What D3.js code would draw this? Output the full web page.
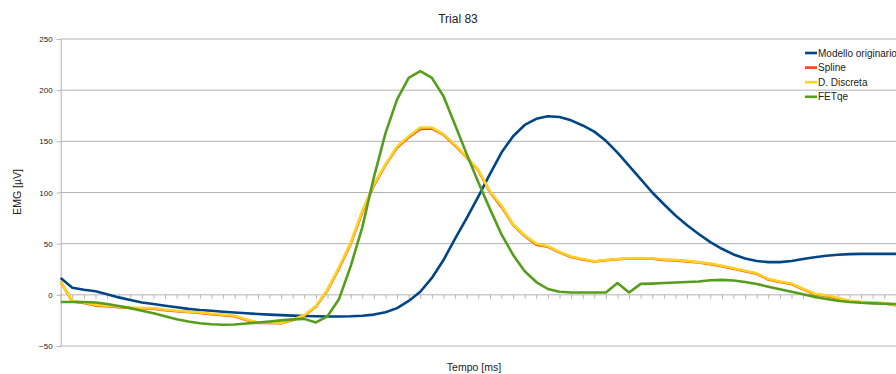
<!DOCTYPE html>
<html>
<head>
<meta charset="utf-8">
<script src="https://cdn.jsdelivr.net/npm/d3@7"></script>
<style>
  body { margin: 0; background: #fff; }
  svg { display: block; font-family: "Liberation Sans", Arial, sans-serif; }
</style>
</head>
<body>
<div id="container"></div>
<script>
/* CONSTANTS AND GLOBALS */
const width = 896,
  height = 374,
  margin = { top: 39, bottom: 28, left: 60.7, right: 0 }

/* DATA */
const seriesNames = ["Modello originario", "Spline", "D. Discreta", "FETqe"]
const seriesColors = ["#004586", "#ff420e", "#ffd320", "#579d1c"]
const yTicks = [-50, 0, 50, 100, 150, 200, 250]

const modello = [16.5, 7, 5, 3.5, 0.5, -2.5, -5, -7.5, -9, -10.7, -12.2, -13.7, -14.8, -15.6, -16.5, -17.2,
  -18, -18.7, -19.3, -19.8, -20.3, -20.7, -21, -21.2, -21.2, -21, -20.5, -19.3, -17, -13, -6, 3, 16.5, 34,
  55, 75, 96, 118, 139, 155, 166, 172, 174.5, 173.8, 170.5, 165.5, 159.5, 150.5, 139, 126, 113, 100, 88.5,
  77.5, 68, 59.5, 51.5, 45, 39.5, 35.5, 33, 32, 32, 33, 35, 36.8, 38.2, 39.2, 39.8, 40, 40, 40, 40, 40]

const spline = [13, -6.5, -8, -10.5, -11, -12, -12.8, -13.3, -13.5, -15, -16, -16.8, -17.8, -19, -20,
  -21, -24.5, -27.5, -27.5, -27.8, -24.5, -20.5, -11.5, 4.5, 26, 50, 81, 107, 127, 144, 154, 162, 162.5,
  156.5, 146, 134, 121.5, 100.5, 86, 68.5, 57.5, 49, 47, 41.5, 37, 34.5, 32.5, 33.8, 34.8, 35.5, 35.8,
  35.2, 34.2, 33.7, 32.7, 31.6, 30, 28, 25.5, 23, 20.5, 15, 12.5, 10.5, 5.5, 0.5, -1, -3.5, -6.2, -7.2,
  -7.6, -8.4, -10.2, -11]

const discreta = [13, -6, -7.5, -9.8, -10.7, -11.5, -12.4, -13, -13, -14.5, -15.6, -16.5, -17.2, -18.5,
  -19.5, -20.5, -24, -27, -27, -27.5, -24, -20, -11, 5, 27, 51, 82, 108, 127.5, 145, 155, 163.5, 163.5,
  157, 146.5, 134.5, 122, 101, 87, 69, 58, 50, 47.5, 42, 37.5, 35, 32.8, 34, 35, 35.8, 36, 35.5, 34.5,
  34, 33, 32, 30.5, 28.5, 26, 23.5, 21, 15.5, 13, 11, 6, 1, -0.5, -3, -5.8, -6.8, -7.2, -8, -9.8, -10.5]

const fetqe = [-7, -7, -7, -7.5, -9, -11, -13, -15.5, -18, -21, -23.8, -26, -27.7, -28.8, -29.3, -29,
  -28, -27, -26, -25, -24, -23.5, -27, -21, -4, 28, 66, 115, 158, 191, 212, 218.5, 212, 194, 166, 137.5,
  110, 84, 59, 39, 23, 12.5, 5.7, 3, 2.3, 2.3, 2.3, 2.3, 11.5, 2.3, 10.7, 11, 11.5, 12, 12.5, 13, 14.3,
  14.6, 14, 12.5, 10.5, 8, 5.5, 3, 0.5, -2, -4, -5.8, -7, -7.8, -8.3, -8.7, -9, -9.2]

const allSeries = [modello, spline, discreta, fetqe]
const categories = d3.range(modello.length)

/* SCALES */
const xStep = 11.6
const xScale = d3.scaleLinear()
  .domain([0, categories.length - 1])
  .range([margin.left, margin.left + xStep * (categories.length - 1)])

const yScale = d3.scaleLinear()
  .domain([-50, 250])
  .range([346, margin.top])

/* SVG */
const svg = d3.select("#container")
  .append("svg")
  .attr("width", width)
  .attr("height", height)

svg.append("defs").append("clipPath")
  .attr("id", "plotClip")
  .append("rect")
  .attr("x", margin.left - 1)
  .attr("y", 0)
  .attr("width", width)
  .attr("height", height)

// gridlines
svg.append("g")
  .selectAll("line")
  .data(yTicks)
  .join("line")
  .attr("x1", margin.left)
  .attr("x2", width)
  .attr("y1", d => yScale(d))
  .attr("y2", d => yScale(d))
  .attr("stroke", "#b3b3b3")
  .attr("stroke-width", 1)

// y axis
const yAxisGroup = svg.append("g")
  .attr("transform", `translate(${margin.left}, 0)`)
  .call(d3.axisLeft(yScale).tickValues(yTicks).tickSize(4).tickPadding(4))
yAxisGroup.select(".domain").attr("stroke", "#b3b3b3")
yAxisGroup.selectAll(".tick line").attr("stroke", "#b3b3b3")
yAxisGroup.selectAll(".tick text")
  .attr("font-size", 8)
  .attr("font-family", "Liberation Sans, Arial, sans-serif")
  .attr("fill", "#222")

// x axis (category ticks hanging off the zero line)
const xAxisGroup = svg.append("g")
  .attr("transform", `translate(0, ${yScale(0)})`)
  .call(d3.axisBottom(xScale).tickValues(categories).tickSize(4).tickFormat(""))
xAxisGroup.select(".domain").remove()
xAxisGroup.selectAll(".tick line").attr("stroke", "#b3b3b3")

// lines
const lineGen = d3.line()
  .x((d, i) => xScale(i))
  .y(d => yScale(d))

svg.append("g")
  .attr("clip-path", "url(#plotClip)")
  .selectAll("path")
  .data(allSeries)
  .join("path")
  .attr("fill", "none")
  .attr("stroke", (d, i) => seriesColors[i])
  .attr("stroke-width", 2.6)
  .attr("stroke-linejoin", "round")
  .attr("d", d => lineGen(d))

// titles
svg.append("text")
  .attr("x", 458)
  .attr("y", 23)
  .attr("text-anchor", "middle")
  .attr("font-size", 12)
  .attr("fill", "#222")
  .text("Trial 83")

svg.append("text")
  .attr("transform", "rotate(-90)")
  .attr("x", -192)
  .attr("y", 21)
  .attr("text-anchor", "middle")
  .attr("font-size", 10.5)
  .attr("fill", "#222")
  .text("EMG [µV]")

svg.append("text")
  .attr("x", 474)
  .attr("y", 371)
  .attr("text-anchor", "middle")
  .attr("font-size", 10.5)
  .attr("fill", "#222")
  .text("Tempo [ms]")

// legend
const legend = svg.append("g")
  .selectAll("g")
  .data(seriesNames)
  .join("g")
  .attr("transform", (d, i) => `translate(805, ${53 + i * 14.6})`)

legend.append("line")
  .attr("x1", 0)
  .attr("x2", 12)
  .attr("stroke", (d, i) => seriesColors[i])
  .attr("stroke-width", 2.6)

legend.append("text")
  .attr("x", 13)
  .attr("y", 3.6)
  .attr("font-size", 10)
  .attr("fill", "#222")
  .text(d => d)
</script>
</body>
</html>
